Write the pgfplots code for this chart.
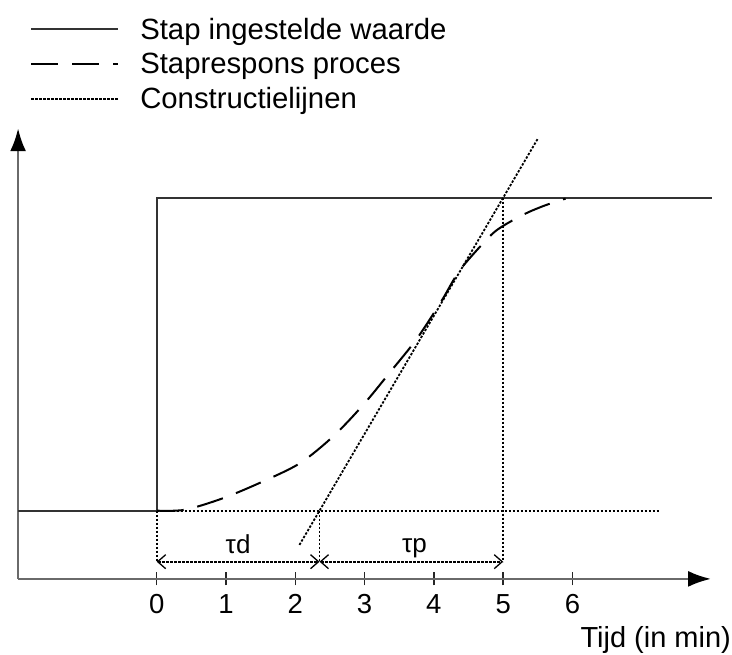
\documentclass[border=0pt]{standalone}
\usepackage{fontspec}
\setmainfont{Liberation Sans}
\usepackage{pgfplots}
\pgfplotsset{compat=1.18}
\usetikzlibrary{arrows.meta}
\definecolor{stepc}{HTML}{333333}
\definecolor{axisc}{HTML}{6A6A6A}
\tikzset{cdot/.style={line width=1.8pt, black, dash pattern=on 2.4pt off 1.6pt},
  dimarr/.style={cdot, {Straight Barb[length=8pt,width=14pt,line width=1.3pt]}-{Straight Barb[length=8pt,width=14pt,line width=1.3pt]}}}
\begin{document}
\begin{tikzpicture}
\begin{axis}[
 scale only axis, width=693pt, height=450.7pt,
 xmin=-2, xmax=8, ymin=-0.218, ymax=1.222,
 axis lines=left,
 axis line style={line width=2.6pt, draw=axisc, -{Latex[length=23pt,width=16pt,color=black]}},
 clip=false,
 xtick={0,1,2,3,4,5,6}, ytick=\empty,
 tick align=center, major tick length=13pt,
 tick style={line width=1.4pt, draw=black!85},
 /pgf/number format/assume math mode=true,
 xticklabel style={font=\fontsize{27.5}{32}\selectfont, inner sep=0pt, anchor=north, yshift=-9pt},
 xlabel={Tijd (in min)},
 xlabel style={at={(rel axis cs:1,0)}, anchor=base east, inner sep=0pt, xshift=20pt, yshift=-69pt, font=\fontsize{29}{34}\selectfont},
 legend style={at={(axis description cs:0.0173,1.247)}, anchor=north west, draw=none, fill=none, inner sep=0pt, row sep=10.5pt, column sep=20pt, font=\fontsize{29.3}{34}\selectfont, nodes={inner sep=1pt}},
 legend cell align=left,
 legend image code/.code={\draw[#1] (0pt,0pt) -- (87pt,0pt);},
]
\addplot[line width=2pt, color=stepc] coordinates {(-2,0) (0,0) (0,1) (8.02,1)};
\addlegendentry{Stap ingestelde waarde}
\addplot[line width=2pt, black, dash pattern=on 27pt off 14pt, smooth] coordinates {
 (0,0) (0.41,0.003) (0.96,0.04) (1.53,0.093) (2.07,0.152) (2.55,0.238) (2.98,0.338)
 (3.37,0.443) (3.75,0.548) (4.11,0.67) (4.38,0.77) (4.8,0.875) (5.0,0.91) (5.33,0.95)
 (5.6,0.975) (5.9,0.997)};
\addlegendentry{Staprespons proces}
\addplot[cdot] coordinates {(2.06,-0.1094) (5.5,1.1887)};
\addlegendentry{Constructielijnen}
\addplot[forget plot, cdot] coordinates {(0,0) (7.26,0)};
\addplot[forget plot, cdot] coordinates {(0,0) (0,-0.163)};
\addplot[forget plot, cdot] coordinates {(2.35,0) (2.35,-0.163)};
\addplot[forget plot, cdot] coordinates {(5,1) (5,-0.163)};
\addplot[forget plot, dimarr] coordinates {(0,-0.163) (2.35,-0.163)};
\addplot[forget plot, dimarr] coordinates {(2.35,-0.163) (5,-0.163)};
\node[font=\fontsize{26}{30}\selectfont, anchor=base, inner sep=0pt] at (axis cs:1.175,-0.138) {τd};
\node[font=\fontsize{26}{30}\selectfont, anchor=base, inner sep=0pt] at (axis cs:3.72,-0.134) {τp};
\coordinate (bbl) at (axis cs:-2.261,-0.461);
\coordinate (bbr) at (axis cs:8.302,1.6316);
\end{axis}
\pgfresetboundingbox
\path[use as bounding box] (bbl) rectangle (bbr);
\end{tikzpicture}
\end{document}
